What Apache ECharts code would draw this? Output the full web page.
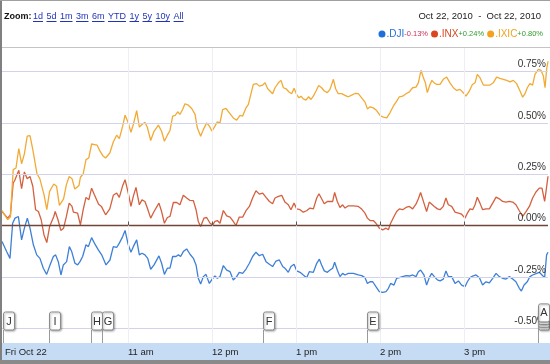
<!DOCTYPE html>
<html><head><meta charset="utf-8">
<script src="https://cdn.jsdelivr.net/npm/echarts@6/dist/echarts.min.js"></script>
<style>html,body{margin:0;padding:0;background:#fff}#c{width:550px;height:364px}</style>
</head><body><div id="c"></div>
<script>
// minutes after 9:30 am, percent change
const dji = [[0,-0.078],[1.4,-0.081],[3.3,-0.127],[5.7,-0.160],[7.6,0.011],[9.3,0.036],[11.7,0.044],[14,-0.070],[16,-0.013],[18.1,0.036],[20,-0.013],[22.4,-0.094],[24.8,-0.143],[27.1,-0.160],[29.5,-0.208],[31.9,-0.238],[34.3,-0.192],[36.7,-0.151],[38.3,-0.143],[40.2,-0.176],[42.1,-0.241],[43.8,-0.192],[46.2,-0.176],[48.1,-0.103],[49.8,-0.127],[52.1,-0.184],[54,-0.192],[55.7,-0.176],[57.6,-0.151],[60,-0.094],[61.7,-0.103],[64,-0.059],[66.4,-0.091],[68.8,-0.119],[71.2,-0.143],[74.3,-0.192],[77.1,-0.168],
[79.5,-0.103],[81.9,-0.107],[83.8,-0.086],[86.2,-0.054],[87.9,-0.024],[90.2,-0.094],[92.1,-0.130],[93.8,-0.103],[96.2,-0.070],[98.1,-0.143],[100,-0.135],[102.1,-0.143],[104.1,-0.160],[106.2,-0.213],[108.6,-0.192],[112.1,-0.148],[114,-0.184],[116,-0.238],[118.1,-0.208],[120,-0.208],[121.9,-0.151],[124.3,-0.151],[126,-0.143],[127.6,-0.151],[129.5,-0.127],[131.9,-0.114],[134.3,-0.140],[136.7,-0.160],[138.6,-0.192],[140.2,-0.257],[141.9,-0.285],[143.8,-0.249],[145.7,-0.238],[148.1,-0.282],[150,-0.262],[152.1,-0.246],[153.8,-0.257],[155.7,-0.249],
[158.1,-0.195],[160.5,-0.217],[162.9,-0.225],[165.2,-0.265],[167.6,-0.249],[169.5,-0.228],[171.9,-0.233],[174.3,-0.212],[176.7,-0.184],[179,-0.151],[181.4,-0.130],[183.8,-0.147],[186.2,-0.140],[188.6,-0.176],[191,-0.189],[193.3,-0.200],[195.7,-0.173],[198.1,-0.168],[200.5,-0.200],[202.1,-0.208],[204.5,-0.228],[206.4,-0.200],[208.6,-0.189],[210.5,-0.221],[212.9,-0.228],[215.2,-0.241],[217.6,-0.254],[219.5,-0.225],[222.4,-0.228],[224.8,-0.184],[226.7,-0.164],[228.3,-0.192],[230.2,-0.221],[232.4,-0.228],[234.3,-0.217],
[236.2,-0.208],[237.6,-0.179],[239.5,-0.217],[241.4,-0.249],[243.3,-0.233],[245,-0.241],[247.4,-0.233],[251,-0.233],[254.5,-0.241],[256.9,-0.244],[259.3,-0.254],[261,-0.282],[262.9,-0.274],[264.8,-0.274],[267.1,-0.298],[269.5,-0.322],[271.9,-0.326],[274.3,-0.322],[276,-0.306],[277.6,-0.282],[280,-0.290],[281.9,-0.257],[283.8,-0.254],[286.2,-0.249],[288.6,-0.244],[291,-0.246],[293.3,-0.241],[295.7,-0.249],[297.4,-0.225],[299,-0.217],[301.4,-0.241],[303.3,-0.290],[305.2,-0.254],[306.9,-0.233],[308.8,-0.249],[311,-0.265],[312.9,-0.270],
[315.2,-0.261],[317.1,-0.221],[318.8,-0.249],[321.2,-0.249],[323.6,-0.282],[326,-0.270],[328.3,-0.290],[330.7,-0.298],[332.4,-0.274],[334.3,-0.254],[336.2,-0.246],[338.6,-0.241],[341,-0.254],[343.3,-0.290],[345.7,-0.274],[348.1,-0.279],[350.5,-0.257],[352.9,-0.233],[355.2,-0.249],[357.6,-0.257],[360,-0.261],[362.4,-0.249],[364.8,-0.261],[367.1,-0.274],[369.5,-0.306],[371,-0.319],[372.9,-0.290],[375.2,-0.274],[377.1,-0.249],[379,-0.241],[381.9,-0.233],[383.8,-0.228],[385.7,-0.241],[387.6,-0.254],[389,-0.143],[390,-0.130]];

const inx = [[0,0.068],[4,0.036],[6,0.052],[8,0.207],[9,0.218],[12,0.269],[14,0.179],[16,0.261],[18,0.228],[20,0.239],[22,0.191],[24,0.077],[26,0.068],[28,0.028],[30,-0.046],[32,-0.083],[34,-0.005],[37,0.044],[38,0.068],[40,0.028],[42,-0.024],[44,-0.013],[46,0.044],[48,0.109],[50,0.093],[51,0.065],[54,0.060],[56,0.003],[58,0.077],[60,0.137],[62,0.125],[64,0.182],[66,0.150],[69,0.104],[71,0.093],[74,0.052],[77,0.081],
[79.5,0.147],[81.9,0.158],[83.8,0.137],[86.2,0.194],[87.9,0.223],[90.2,0.158],[92.1,0.093],[93.8,0.142],[95.7,0.186],[98.1,0.101],[100,0.125],[102.1,0.117],[103.8,0.085],[106.2,0.036],[108.6,0.068],[112.1,0.109],[114,0.068],[116,0.011],[118.1,0.039],[120,0.044],[122.4,0.112],[124.8,0.112],[127.1,0.101],[129.5,0.147],[131.9,0.134],[134.3,0.122],[136.7,0.121],[138.6,0.077],[140.2,0.020],[141.9,-0.005],[144.3,0.036],[146.2,0.039],[148.6,0.011],[150.5,0.003],[152.1,0.020],[153.8,0.024],[155.7,0.011],
[158.1,0.073],[160.5,0.047],[162.9,0.041],[164.8,0.024],[167.1,0.000],[169.5,0.041],[171.9,0.041],[174.3,0.072],[176.7,0.093],[179,0.134],[181.4,0.169],[183.8,0.153],[186.2,0.158],[188.6,0.137],[191,0.117],[193.3,0.106],[195,0.134],[197.4,0.142],[199.8,0.147],[202.1,0.114],[204.5,0.101],[206.4,0.077],[208.6,0.109],[210.5,0.081],[212.9,0.077],[215.2,0.065],[217.6,0.072],[220,0.085],[222.4,0.081],[224.8,0.134],[226.4,0.155],[228.3,0.130],[230.2,0.106],[232.4,0.117],[234.3,0.117],
[236.2,0.117],[237.6,0.161],[239.5,0.117],[241.4,0.088],[243.3,0.101],[245,0.085],[247.4,0.096],[251,0.096],[254.5,0.093],[256.9,0.080],[259.3,0.060],[261,0.036],[262.9,0.024],[265.2,0.024],[267.1,0.011],[269.5,-0.013],[271.9,-0.021],[274.3,-0.013],[276,-0.021],[277.6,0.011],[280,0.044],[281.9,0.068],[283.8,0.081],[286.2,0.077],[288.6,0.088],[291,0.093],[293.3,0.081],[295.7,0.104],[297.4,0.130],[299,0.161],[301.4,0.109],[303.3,0.068],[305.2,0.114],[306.4,0.122],[308.8,0.093],[311,0.081],[312.9,0.077],
[315.2,0.093],[317.1,0.134],[318.8,0.101],[321.2,0.093],[323.6,0.065],[326,0.060],[328.3,0.055],[330.7,0.036],[332.4,0.060],[334.3,0.081],[336.2,0.077],[337.9,0.101],[339.5,0.138],[341.4,0.109],[343.3,0.077],[345.7,0.081],[348.1,0.081],[350.5,0.109],[352.9,0.138],[355.2,0.130],[357.6,0.117],[360,0.114],[362.4,0.117],[364.8,0.114],[367.1,0.101],[369.5,0.072],[371.9,0.044],[374.3,0.068],[376.7,0.093],[379,0.134],[381.4,0.163],[383.8,0.182],[385.7,0.182],[387.6,0.117],[388.6,0.166],[390,0.240]];

const ixic = [[0,0.073],[1,0.068],[4,0.028],[6,0.041],[8,0.272],[10,0.280],[12,0.375],[14,0.301],[16,0.349],[18,0.435],[20,0.438],[22,0.370],[25,0.252],[27,0.228],[30,0.150],[32,0.077],[34,0.166],[37,0.202],[39,0.191],[41,0.098],[44,0.130],[46,0.199],[48,0.239],[50,0.228],[52,0.178],[55,0.195],[56,0.235],[58,0.251],[60,0.321],[62,0.329],[64,0.397],[66,0.394],[68,0.391],[70,0.362],[72,0.340],[74,0.329],[77,0.353],
[79.5,0.407],[81.9,0.440],[83.8,0.423],[86.2,0.484],[87.9,0.537],[90.2,0.500],[92.1,0.454],[93.8,0.492],[96.2,0.560],[98.1,0.479],[100,0.492],[102.1,0.503],[103.8,0.479],[106.2,0.414],[108.6,0.459],[111.7,0.489],[114,0.459],[116,0.410],[118.1,0.440],[120,0.463],[121.9,0.533],[123.8,0.537],[125.5,0.554],[127.1,0.541],[129,0.565],[130.7,0.593],[133.1,0.586],[135.5,0.570],[137.9,0.541],[139.5,0.476],[141.9,0.435],[143.8,0.467],[146.2,0.500],[148.1,0.484],[150,0.459],[152.1,0.484],[153.8,0.505],[155.7,0.500],
[157.6,0.565],[160,0.570],[162.4,0.549],[165.2,0.524],[167.6,0.513],[170,0.536],[171.9,0.533],[174.3,0.573],[176,0.590],[177.6,0.635],[179.5,0.687],[181.9,0.691],[183.8,0.679],[186.2,0.684],[187.9,0.695],[189.8,0.666],[191.4,0.655],[193.3,0.642],[195,0.671],[197.4,0.695],[199.3,0.707],[201,0.671],[202.9,0.666],[205,0.650],[206.9,0.642],[208.6,0.668],[210.5,0.638],[212.1,0.622],[213.6,0.630],[215.2,0.617],[217.1,0.611],[219,0.627],[220.7,0.614],[222.4,0.630],[224.3,0.655],[226.2,0.682],[228.3,0.671],[230.2,0.655],[232.4,0.647],[234.3,0.663],
[236.7,0.712],[238.3,0.666],[240.2,0.642],[242.6,0.642],[245,0.634],[247.4,0.627],[249.8,0.635],[252.1,0.643],[254.5,0.642],[256.9,0.622],[259.3,0.601],[261,0.568],[262.9,0.578],[265.2,0.573],[267.6,0.560],[270,0.536],[272.4,0.528],[274.8,0.524],[277.1,0.549],[279.5,0.581],[281.9,0.606],[283.8,0.627],[286.2,0.630],[288.6,0.642],[291,0.651],[293.3,0.671],[295.7,0.674],[297.4,0.695],[299.3,0.756],[301,0.720],[302.4,0.695],[303.8,0.647],[305.7,0.687],[307.1,0.707],[308.6,0.695],[310.5,0.687],[312.9,0.687],
[315.2,0.712],[317.6,0.723],[320,0.695],[322.4,0.671],[324.8,0.658],[327.1,0.663],[329.5,0.647],[331.4,0.630],[333.8,0.655],[336,0.687],[337.9,0.695],[339.5,0.736],[341.4,0.720],[343.8,0.684],[346.2,0.684],[348.6,0.684],[350.9,0.695],[353.3,0.723],[355.7,0.717],[358.1,0.712],[360.5,0.707],[362.9,0.700],[365.2,0.707],[367.6,0.691],[370,0.655],[371.9,0.625],[373.6,0.642],[375.2,0.671],[377.1,0.691],[379,0.684],[380.7,0.736],[383.1,0.761],[385,0.756],[386.7,0.728],[387.9,0.671],[389,0.760],[390,0.800]];

const yTicks = [-0.5, -0.25, 0, 0.25, 0.5, 0.75];
const hourTicks = [90, 150, 210, 270, 330];
const hourLabels = ['11 am', '12 pm', '1 pm', '2 pm', '3 pm'];
const dayLabel = 'Fri Oct 22';
const flagLetters = ['J','I','H','G','F','E','D','C','B','A'];
const flagTimes = [0.7, 33.6, 63.6, 71.4, 186.4, 260.7, 382.9, 382.9, 382.9, 382.9];
const zoomLinks = ['1d','5d','1m','3m','6m','YTD','1y','5y','10y','All'];
const dateRange = 'Oct 22, 2010  -  Oct 22, 2010';
const legendNames = ['.DJI', '.INX', '.IXIC'];
const legendChanges = ['-0.13%', '+0.24%', '+0.80%'];

const Y_MIN = -0.5723, Y_MAX = 0.8646;
const lineColors = ['#3d80d6', '#d4603f', '#f2aa35'];
const nameColors = ['#1f6fd8', '#d8471f', '#f4a21d'];
const changeColors = ['#c8325a', '#2f9a2f', '#2f9a2f'];

const FONT = '"Liberation Sans Narrow","Liberation Sans",Arial,sans-serif';

const chart = echarts.init(document.getElementById('c'), null, {renderer: 'canvas'});

const flagData = flagTimes.map((t, i) => {
  let k = 0;
  for (let j = 0; j < i; j++) if (flagTimes[j] === t) k++;
  return [t, k];
});

const mctx = document.createElement('canvas').getContext('2d');
function tw(text, font) { mctx.font = font; return mctx.measureText(text).width; }

const linkFont = '9px ' + FONT;
const graphics = [];
graphics.push({type:'rect', shape:{x:2, y:343, width:548, height:17}, style:{fill:'#c6dcf5'}, z:-10, silent:true});
graphics.push({type:'line', shape:{x1:2, y1:47.5, x2:550, y2:47.5}, style:{stroke:'#c4c4c4', lineWidth:1}, silent:true});
graphics.push({type:'rect', shape:{x:0, y:0, width:2, height:364}, style:{fill:'#808080'}, silent:true});
graphics.push({type:'rect', shape:{x:0, y:0, width:550, height:1}, style:{fill:'#a0a0a0'}, silent:true});
graphics.push({type:'rect', shape:{x:0, y:360, width:550, height:4}, style:{fill:'#8a8a8a'}, silent:true});
graphics.push({type:'text', style:{text:'Zoom:', x:4, y:16.5, verticalAlign:'middle', font:'bold 9px ' + FONT, fill:'#111'}, silent:true});
let lx = 33;
zoomLinks.forEach((s) => {
  const w = tw(s, linkFont);
  graphics.push({type:'text', style:{text:s, x:lx, y:16.5, verticalAlign:'middle', font:linkFont, fill:'#2233bb'}, silent:true});
  graphics.push({type:'line', shape:{x1:lx, y1:21.5, x2:lx + w, y2:21.5}, style:{stroke:'#2233bb', lineWidth:1}, silent:true});
  lx += w + 3.5;
});
graphics.push({type:'text', style:{text:dateRange, x:541, y:16.5, align:'right', verticalAlign:'middle', font:'9.5px ' + FONT, fill:'#222'}, silent:true});
let richText = '';
const rich = {};
legendNames.forEach((n, i) => {
  rich['d' + i] = {width: 7, height: 7, borderRadius: 4, backgroundColor: nameColors[i], padding: 0};
  rich['s' + i] = {width: i ? 3 : 0, fontSize: 8};
  rich['n' + i] = {fill: nameColors[i], fontSize: 10, fontFamily: FONT, padding: [0, 0, 0, 1]};
  rich['c' + i] = {fill: changeColors[i], fontSize: 7.5, fontFamily: FONT};
  richText += (i ? '{s' + i + '| }' : '') + '{d' + i + '|}{n' + i + '|' + n + '}{c' + i + '|' + legendChanges[i] + '}';
});
graphics.push({type:'text', style:{text:richText, rich:rich, x:543, y:34, align:'right', verticalAlign:'middle'}, silent:true});
graphics.push({type:'text', style:{text:dayLabel, x:5, y:352, verticalAlign:'middle', font:'9.5px ' + FONT, fill:'#222'}, z:20, silent:true});

const gridMarks = yTicks.map(v => ({
  yAxis: v,
  lineStyle: {color: v === 0 ? '#6f4538' : '#d2d3ea', width: v === 0 ? 1.4 : 1, type: 'solid'},
  label: {show: true, position: 'insideEndTop', formatter: v.toFixed(2) + '%', color: '#333', fontSize: 10, fontFamily: FONT, distance: 2}
})).concat(hourTicks.map(v => ({
  xAxis: v,
  lineStyle: {color: '#eeeef3', width: 1, type: 'solid'},
  label: {show: false}
})));

chart.setOption({
  animation: false,
  backgroundColor: '#fff',
  grid: {left: 2, right: 2, top: 48, bottom: 21},
  xAxis: {
    type: 'value', min: 0, max: 390, z: 10,
    axisLine: {show: false},
    axisTick: {show: true, inside: true, length: 4, customValues: hourTicks, lineStyle: {color: '#555'}},
    axisLabel: {customValues: hourTicks, formatter: v => hourLabels[hourTicks.indexOf(v)] || '', align: 'left', margin: 4, fontSize: 9.5, fontFamily: FONT, color: '#222'},
    splitLine: {show: false}
  },
  yAxis: {type: 'value', min: Y_MIN, max: Y_MAX, show: false, splitLine: {show: false}},
  graphic: graphics,
  series: [
    {type: 'line', data: [], z: 1, silent: true,
     markLine: {silent: true, symbol: 'none', animation: false, data: gridMarks}},
    {name: legendNames[0], type: 'line', data: dji, showSymbol: false, z: 3, lineStyle: {color: lineColors[0], width: 1.3}, itemStyle: {color: lineColors[0]}},
    {name: legendNames[1], type: 'line', data: inx, showSymbol: false, z: 3, lineStyle: {color: lineColors[1], width: 1.3}, itemStyle: {color: lineColors[1]}},
    {name: legendNames[2], type: 'line', data: ixic, showSymbol: false, z: 3, lineStyle: {color: lineColors[2], width: 1.3}, itemStyle: {color: lineColors[2]}},
    {type: 'custom', data: flagData, z: 6, clip: false, silent: true,
     renderItem: function (params, api) {
       const t = api.value(0), k = api.value(1);
       const p = api.coord([t, Y_MIN]);
       const x = Math.round(p[0]) + 0.5, yb = p[1];
       const boxBottom = yb - 13 - k * 2.7;
       const boxTop = boxBottom - 18;
       return {type: 'group', children: [
         {type: 'line', shape: {x1: x, y1: boxBottom, x2: x, y2: yb}, style: {stroke: '#9a9a9a', lineWidth: 1}},
         {type: 'rect', shape: {x: x, y: boxTop, width: 11, height: 18, r: 2},
          style: {fill: '#fff', stroke: '#8c8c8c', lineWidth: 1, shadowBlur: 2, shadowOffsetX: 1, shadowOffsetY: 1, shadowColor: 'rgba(0,0,0,0.3)'}},
         {type: 'text', style: {text: flagLetters[params.dataIndex], x: x + 5.5, y: boxTop + 9.5, align: 'center', verticalAlign: 'middle', font: '11px ' + FONT, fill: '#333'}}
       ]};
     }}
  ]
});
</script>
</body></html>
